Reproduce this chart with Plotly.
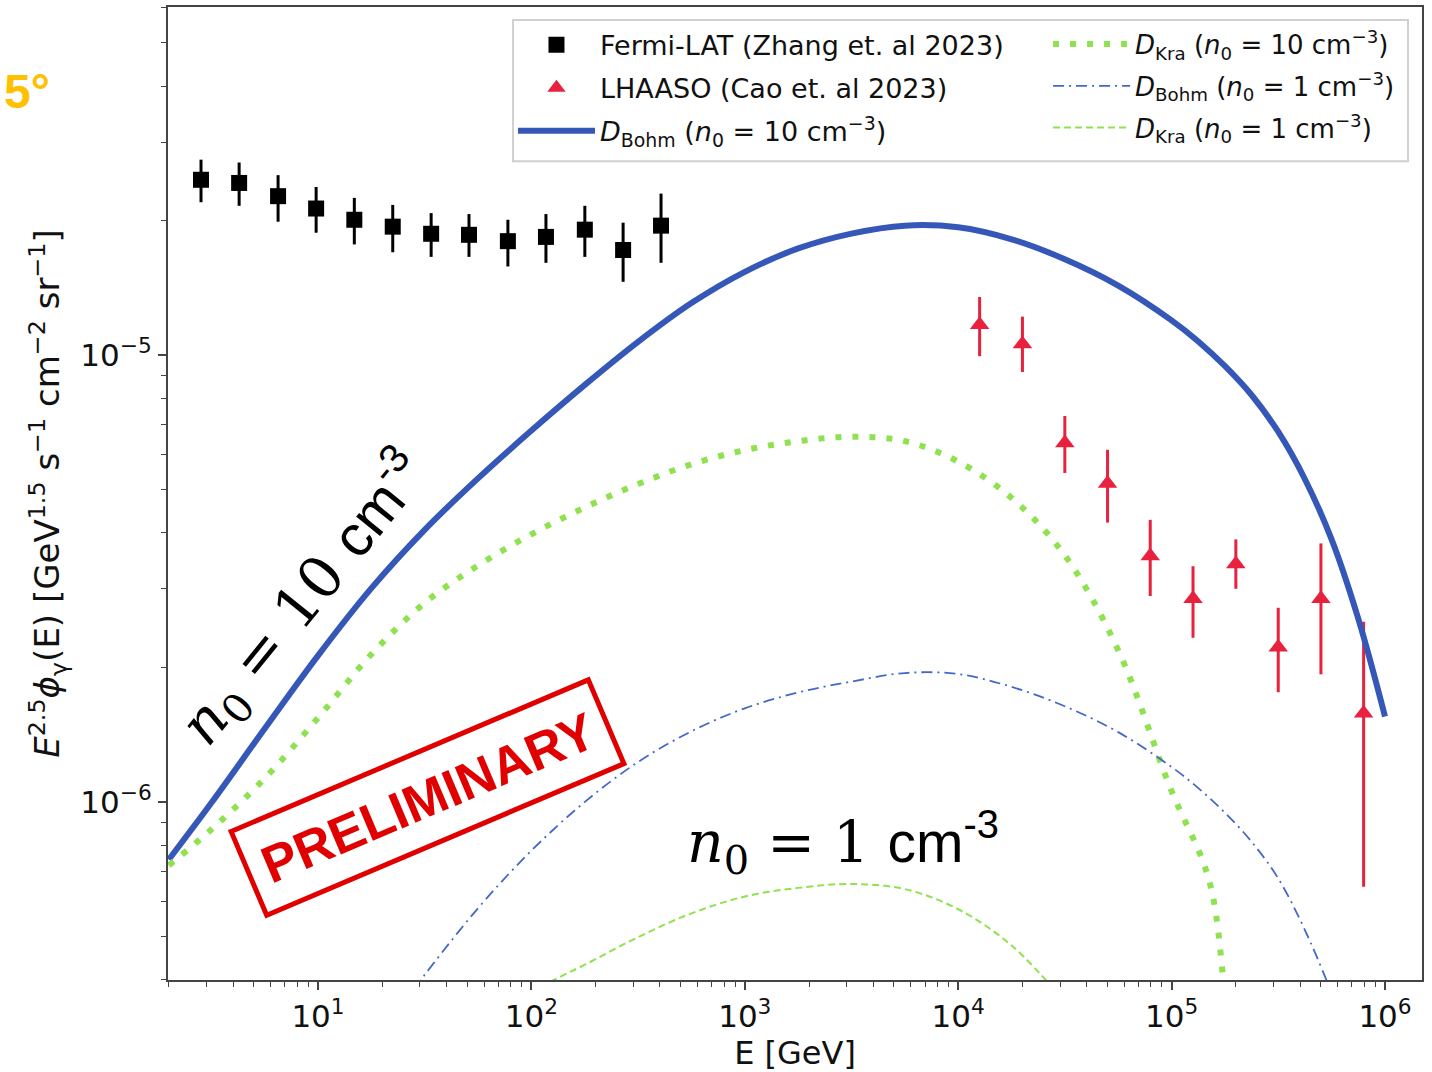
import plotly.graph_objects as go

# ---------------- data ----------------
fermi_E = [2.83, 4.27, 6.5, 9.8, 14.8, 22.4, 33.9, 51.0, 77.6, 117, 178, 269, 405]
fermi_F = [2.47e-5, 2.43e-5, 2.27e-5, 2.13e-5, 2.01e-5, 1.94e-5, 1.87e-5, 1.86e-5,
           1.80e-5, 1.84e-5, 1.91e-5, 1.72e-5, 1.95e-5]
fermi_hi = [2.74e-5, 2.70e-5, 2.53e-5, 2.38e-5, 2.25e-5, 2.17e-5, 2.08e-5, 2.07e-5,
            2.01e-5, 2.07e-5, 2.16e-5, 1.98e-5, 2.30e-5]
fermi_lo = [2.20e-5, 2.16e-5, 1.99e-5, 1.88e-5, 1.77e-5, 1.70e-5, 1.66e-5, 1.66e-5,
            1.58e-5, 1.61e-5, 1.66e-5, 1.46e-5, 1.61e-5]

lhaaso_E = [1.26e4, 2.0e4, 3.16e4, 5.01e4, 7.94e4, 1.26e5, 2.0e5, 3.16e5, 5.01e5, 7.94e5]
lhaaso_F = [1.17e-5, 1.06e-5, 6.36e-6, 5.16e-6, 3.55e-6, 2.85e-6, 3.41e-6, 2.22e-6, 2.85e-6, 1.58e-6]
lhaaso_hi = [1.35e-5, 1.22e-5, 7.31e-6, 6.14e-6, 4.28e-6, 3.37e-6, 3.87e-6, 2.72e-6, 3.79e-6, 2.53e-6]
lhaaso_lo = [9.95e-6, 9.17e-6, 5.45e-6, 4.22e-6, 2.89e-6, 2.33e-6, 3.00e-6, 1.76e-6, 1.93e-6, 6.46e-7]

bohm10_E = [2.0, 3.16, 5.62, 10, 17.8, 31.6, 56.2, 100, 178, 316, 562, 1e3, 1.78e3, 3.16e3,
            5.62e3, 1e4, 1.78e4, 3.16e4, 5.62e4, 1e5, 1.33e5, 1.78e5, 2.37e5, 3.16e5,
            4.22e5, 5.62e5, 7.5e5, 1e6]
bohm10_F = [7.43e-7, 9.94e-7, 1.458e-6, 2.126e-6, 3.01e-6, 4.065e-6, 5.30e-6, 6.78e-6, 8.58e-6,
            1.071e-5, 1.308e-5, 1.537e-5, 1.734e-5, 1.872e-5, 1.950e-5, 1.933e-5, 1.817e-5,
            1.640e-5, 1.432e-5, 1.197e-5, 1.075e-5, 9.45e-6, 8.145e-6, 6.74e-6,
            5.27e-6, 3.87e-6, 2.569e-6, 1.554e-6]

kra10_E = [2.0, 3.16, 5.62, 10, 17.8, 31.6, 56.2, 100, 178, 316, 562, 1e3, 1.78e3, 3.16e3,
           5.62e3, 1e4, 1.78e4, 3.16e4, 5.62e4, 1e5, 1.41e5, 1.58e5, 1.75e5]
kra10_F = [7.21e-7, 8.67e-7, 1.128e-6, 1.542e-6, 2.141e-6, 2.789e-6, 3.381e-6, 3.973e-6,
           4.562e-6, 5.146e-6, 5.70e-6, 6.13e-6, 6.42e-6, 6.57e-6, 6.42e-6, 5.776e-6,
           4.79e-6, 3.563e-6, 2.186e-6, 1.057e-6, 7.31e-7, 5.97e-7, 3.93e-7]

bohm1_E = [28.2, 31.6, 56.2, 100, 178, 316, 562, 1e3, 1.78e3, 3.16e3, 5.62e3, 1e4, 1.78e4,
           3.16e4, 5.62e4, 1e5, 1.33e5, 1.78e5, 2.37e5, 3.16e5, 4.22e5, 5.62e5]
bohm1_F = [3.81e-7, 4.10e-7, 5.78e-7, 7.78e-7, 1.0e-6, 1.228e-6, 1.439e-6, 1.62e-6,
           1.758e-6, 1.859e-6, 1.943e-6, 1.933e-6, 1.809e-6, 1.637e-6, 1.433e-6, 1.197e-6,
           1.075e-6, 9.45e-7, 8.145e-7, 6.74e-7, 5.16e-7, 3.74e-7]

kra1_E = [100, 127, 178, 316, 562, 1e3, 1.78e3, 3.16e3, 5.62e3, 1e4, 1.78e4, 3.16e4]
kra1_F = [3.74e-7, 3.99e-7, 4.32e-7, 4.98e-7, 5.63e-7, 6.14e-7, 6.42e-7, 6.55e-7, 6.38e-7,
          5.75e-7, 4.77e-7, 3.57e-7]

x_tickvals = [1e1, 1e2, 1e3, 1e4, 1e5, 1e6]
x_ticktext = ["10<sup>1</sup>", "10<sup>2</sup>", "10<sup>3</sup>", "10<sup>4</sup>",
              "10<sup>5</sup>", "10<sup>6</sup>"]
y_tickvals = [1e-6, 1e-5]
y_ticktext = ["10<sup>\u22126</sup>", "10<sup>\u22125</sup>"]

x_minor = [m * 10 ** p for p in range(0, 7) for m in range(2, 10)]
y_minor = [m * 10.0 ** p for p in range(-7, -4) for m in range(2, 10)]

# ---------------- styles ----------------
C_BLACK = "#000000"
C_RED = "#E8213F"
C_BLUE = "#3558B8"
C_BLUE_THIN = "#4468C8"
C_GREEN = "#8FE24F"
FONT = "DejaVu Sans"

fig = go.Figure()

fig.add_trace(go.Scatter(
    x=fermi_E, y=fermi_F, mode="markers", name="Fermi-LAT (Zhang et. al 2023)",
    marker=dict(symbol="square", size=16, color=C_BLACK),
    error_y=dict(type="data", symmetric=False,
                 array=[h - f for h, f in zip(fermi_hi, fermi_F)],
                 arrayminus=[f - l for f, l in zip(fermi_F, fermi_lo)],
                 width=0, thickness=3, color=C_BLACK),
    legend="legend", legendgroup="a"))

fig.add_trace(go.Scatter(
    x=lhaaso_E, y=lhaaso_F, mode="markers", name="LHAASO (Cao et. al 2023)",
    marker=dict(symbol="triangle-up", size=17, color=C_RED),
    error_y=dict(type="data", symmetric=False,
                 array=[h - f for h, f in zip(lhaaso_hi, lhaaso_F)],
                 arrayminus=[f - l for f, l in zip(lhaaso_F, lhaaso_lo)],
                 width=0, thickness=3, color=C_RED),
    legend="legend", legendgroup="b"))

fig.add_trace(go.Scatter(
    x=bohm10_E, y=bohm10_F, mode="lines", line_shape="spline",
    name="<i>D</i><sub>Bohm</sub> (<i>n</i><sub>0</sub> = 10 cm<sup>\u22123</sup>)",
    line=dict(color=C_BLUE, width=6), legend="legend", legendgroup="c"))

fig.add_trace(go.Scatter(
    x=kra10_E, y=kra10_F, mode="lines", line_shape="spline",
    name="<i>D</i><sub>Kra</sub> (<i>n</i><sub>0</sub> = 10 cm<sup>\u22123</sup>)",
    line=dict(color=C_GREEN, width=6, dash="6px,11px"), legend="legend2", legendgroup="d"))

fig.add_trace(go.Scatter(
    x=bohm1_E, y=bohm1_F, mode="lines", line_shape="spline",
    name="<i>D</i><sub>Bohm</sub> (<i>n</i><sub>0</sub> = 1 cm<sup>\u22123</sup>)",
    line=dict(color=C_BLUE_THIN, width=1.8, dash="11px,5px,2px,5px"),
    legend="legend2", legendgroup="e"))

fig.add_trace(go.Scatter(
    x=kra1_E, y=kra1_F, mode="lines", line_shape="spline",
    name="<i>D</i><sub>Kra</sub> (<i>n</i><sub>0</sub> = 1 cm<sup>\u22123</sup>)",
    line=dict(color=C_GREEN, width=2, dash="7px,4px"), legend="legend2", legendgroup="f"))

axis_common = dict(
    type="log", showgrid=False, zeroline=False, showline=True, mirror=True,
    linecolor="#444444", linewidth=2, ticks="outside", ticklen=8, tickwidth=1.5,
    tickcolor="#444444", tickfont=dict(family=FONT, size=31, color="#111111"),
)

fig.update_xaxes(
    **axis_common, range=[0.2971, 6.1734], tickmode="array",
    tickvals=x_tickvals, ticktext=x_ticktext,
    minor=dict(tickmode="array", tickvals=x_minor, ticks="outside", ticklen=5,
               tickwidth=1.2, tickcolor="#444444", showgrid=False),
    title=dict(text="E [GeV]", font=dict(family=FONT, size=32, color="#111111"), standoff=10),
)
fig.update_yaxes(
    **axis_common, range=[-6.3987, -4.2205], tickmode="array",
    tickvals=y_tickvals, ticktext=y_ticktext,
    minor=dict(tickmode="array", tickvals=y_minor, ticks="outside", ticklen=5,
               tickwidth=1.2, tickcolor="#444444", showgrid=False),
    title=dict(text="<i>E</i><sup>2.5</sup><i>\u03d5</i><sub>\u03b3</sub>(E) [GeV<sup>1.5</sup> "
                    "s<sup>\u22121</sup> cm<sup>\u22122</sup> sr<sup>\u22121</sup>]",
               font=dict(family=FONT, size=34, color="#111111"), standoff=10),
)

leg_common = dict(orientation="v", yanchor="top", xanchor="left", bgcolor="rgba(0,0,0,0)",
                  borderwidth=0, itemwidth=77, tracegroupgap=5)
fig.update_layout(
    width=1432, height=1072,
    margin=dict(l=168, r=10, t=5, b=89),
    paper_bgcolor="white", plot_bgcolor="white",
    showlegend=True,
    legend=dict(**leg_common, x=0.2751, y=0.986,
                font=dict(family=FONT, size=27, color="#111111")),
    legend2=dict(**leg_common, x=0.7018, y=0.986,
                 font=dict(family=FONT, size=26, color="#111111")),
)

# legend frame
fig.add_shape(type="rect", xref="paper", yref="paper",
              x0=(513 - 168) / 1254, x1=(1408 - 168) / 1254,
              y0=1 - (160 - 5) / 978, y1=1 - (18 - 5) / 978,
              line=dict(color="#d0d0d0", width=2), fillcolor="rgba(0,0,0,0)", layer="above")

# PRELIMINARY stamp (rectangle in pixel offsets around an anchor)
sx, sy = (427.5 - 168) / 1254, 1 - (799.6 - 5) / 978
fig.add_shape(type="path", xref="paper", yref="paper", xsizemode="pixel", ysizemode="pixel",
              xanchor=sx, yanchor=sy,
              path="M-196.4,-33.9 L160.8,117.7 L196.4,33.9 L-160.8,-117.7 Z",
              line=dict(color="#E00000", width=5), fillcolor="rgba(0,0,0,0)", layer="above")
fig.add_annotation(x=sx, y=sy, xref="paper", yref="paper", showarrow=False,
                   xanchor="center", yanchor="middle",
                   text="<b>PRELIMINARY</b>", textangle=-23,
                   font=dict(family="Liberation Sans", size=52, color="#E00000"))

# text annotations
fig.add_annotation(x=(304 - 168) / 1254, y=1 - (600 - 5) / 978, xref="paper", yref="paper",
                   showarrow=False, textangle=-51, xanchor="center", yanchor="middle",
                   text="<i>n</i><sub>0</sub> = 10 <span style='font-family:Liberation Sans'>cm<sup>-3</sup></span>",
                   font=dict(family="DejaVu Serif", size=58, color="#000000"))
fig.add_annotation(x=(843 - 168) / 1254, y=1 - (845 - 5) / 978, xref="paper", yref="paper",
                   showarrow=False, xanchor="center", yanchor="middle",
                   text="<i>n</i><sub>0</sub> = 1 <span style='font-family:Liberation Sans'>cm<sup>-3</sup></span>",
                   font=dict(family="DejaVu Serif", size=57, color="#000000"))
fig.add_annotation(x=(27 - 168) / 1254, y=1 - (90 - 5) / 978, xref="paper", yref="paper",
                   showarrow=False, text="<b>5°</b>", xanchor="center", yanchor="middle",
                   font=dict(family="Liberation Sans", size=48, color="#FFC000"))

fig.write_html("out.html")
